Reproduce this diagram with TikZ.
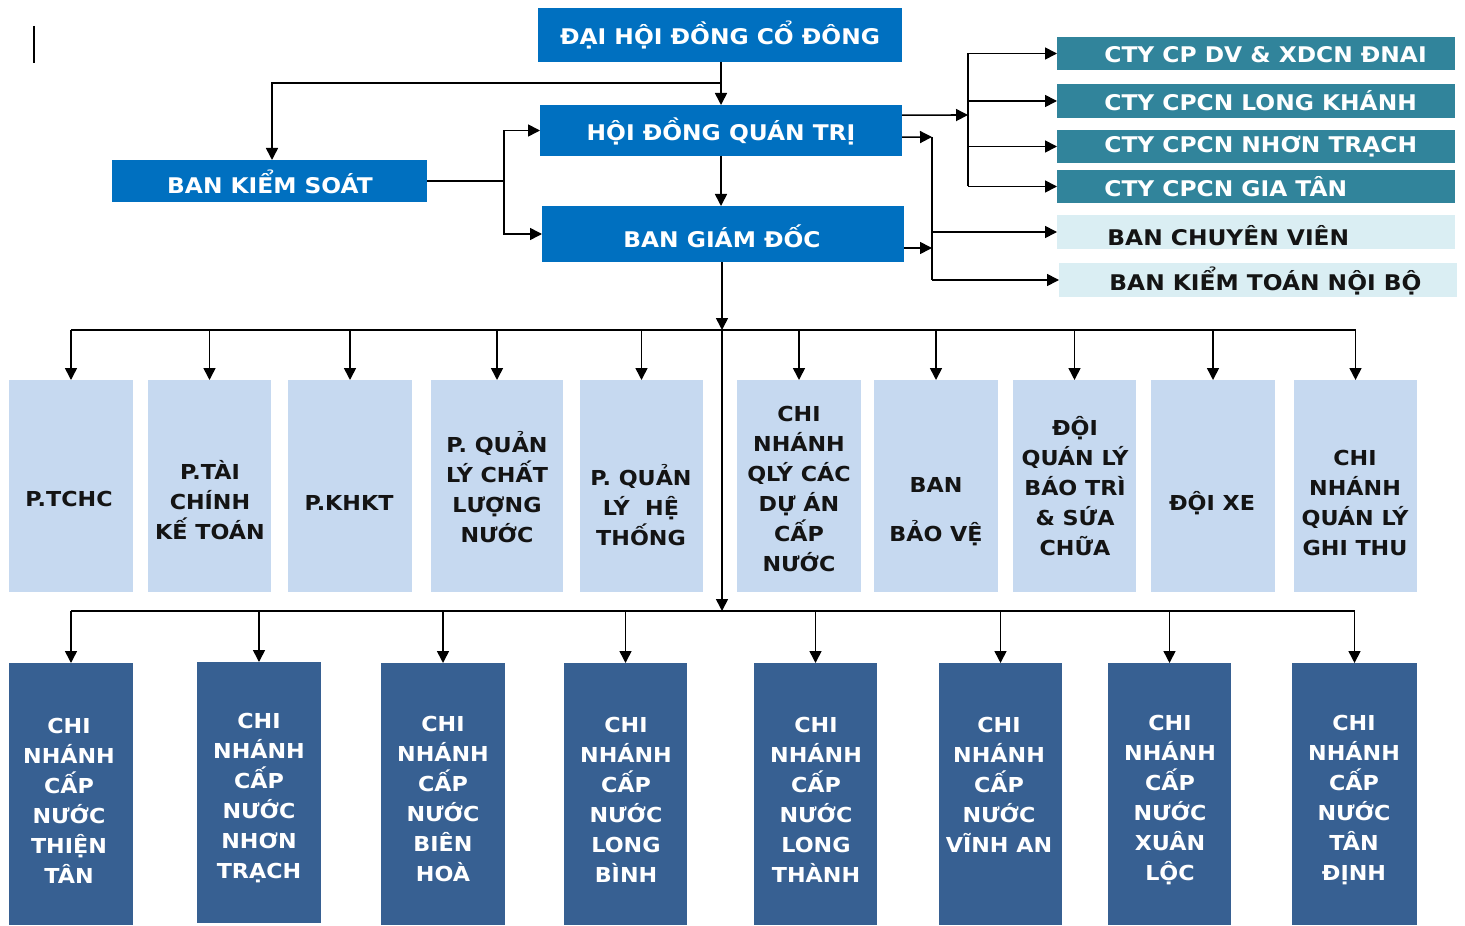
\documentclass[tikz,border=0pt]{standalone}
\usepackage{fontspec}
\setmainfont{DejaVu Sans}[FakeStretch=1.08]
\usetikzlibrary{arrows.meta,calc}
\definecolor{cTop}{RGB}{0,112,192}
\definecolor{cTeal}{RGB}{49,132,155}
\definecolor{cPale}{RGB}{218,238,243}
\definecolor{cMid}{RGB}{198,217,240}
\definecolor{cDark}{RGB}{55,96,146}
\definecolor{cText}{RGB}{20,20,20}
\newcommand\mybox[6]{\node[#6,minimum width={(#4-#2)*0.5pt},minimum height={(#5-#3)*0.5pt}] (#1) at ({(#2+#4)/2},{(#3+#5)/2}) {};}
\begin{document}
\begin{tikzpicture}[x=0.5pt,y=-0.5pt,
  box/.style={rectangle,inner sep=0pt,outer sep=0pt,draw=none},
  topbox/.style={box,fill=cTop},
  tealbox/.style={box,fill=cTeal},
  palebox/.style={box,fill=cPale},
  midbox/.style={box,fill=cMid},
  darkbox/.style={box,fill=cDark},
  lbl/.style={inner sep=0pt,font=\bfseries\fontsize{10.3}{15}\selectfont,align=center},
  biglbl/.style={inner sep=0pt,font=\bfseries\fontsize{10.8}{15}\selectfont,align=center},
  wlbl/.style={lbl,text=white},
  klbl/.style={lbl,text=cText},
  wbig/.style={biglbl,text=white},
  kbig/.style={biglbl,text=cText},
  arr/.style={-{Triangle[length=6pt,width=6pt]},line width=0.8pt},
  conn/.style={line width=0.8pt},
]
\useasboundingbox (0,0) rectangle (1465,925);
% stray mark
\draw[line width=1pt] (34,26) -- (34,63);
% top boxes
\mybox{dh}{538}{8}{902}{62}{topbox}
\mybox{hd}{540}{105}{902}{156}{topbox}
\mybox{bks}{112}{160}{427}{202}{topbox}
\mybox{bgd}{542}{206}{904}{262}{topbox}
\node[wbig] (tdh) at (720,35) {ĐẠI HỘI ĐỒNG CỔ ĐÔNG};
\node[wbig] (thd) at (721,131) {HỘI ĐỒNG QUÁN TRỊ};
\node[wbig] (tbks) at (270,182) {BAN KIỂM SOÁT};
\node[wbig] (tbgd) at (722,236) {BAN GIÁM ĐỐC};
% right boxes
\mybox{c1}{1057}{37}{1455}{70}{tealbox}
\mybox{c2}{1057}{84}{1455}{118}{tealbox}
\mybox{c3}{1057}{130}{1455}{163}{tealbox}
\mybox{c4}{1057}{170}{1455}{203}{tealbox}
\mybox{cv}{1057}{215}{1455}{249}{palebox}
\mybox{kt}{1059}{263}{1457}{297}{palebox}
\node[wbig,anchor=west] (tc1) at (1104,55) {CTY CP DV \& XDCN ĐNAI};
\node[wbig,anchor=west] (tc2) at (1104,101) {CTY CPCN LONG KHÁNH};
\node[wbig,anchor=west] (tc3) at (1104,147) {CTY CPCN NHƠN TRẠCH};
\node[wbig,anchor=west] (tc4) at (1104,187) {CTY CPCN GIA TÂN};
\node[kbig,anchor=west] (tcv) at (1107,236) {BAN CHUYÊN VIÊN};
\node[kbig,anchor=west] (tkt) at (1109,281) {BAN KIỂM TOÁN NỘI BỘ};
% middle row
\mybox{m1}{9}{380}{133}{592}{midbox}
\mybox{m2}{148}{380}{271}{592}{midbox}
\mybox{m3}{288}{380}{412}{592}{midbox}
\mybox{m4}{431}{380}{563}{592}{midbox}
\mybox{m5}{580}{380}{703}{592}{midbox}
\mybox{m6}{737}{380}{861}{592}{midbox}
\mybox{m7}{874}{380}{998}{592}{midbox}
\mybox{m8}{1013}{380}{1136}{592}{midbox}
\mybox{m9}{1151}{380}{1275}{592}{midbox}
\mybox{m10}{1294}{380}{1417}{592}{midbox}
\node[klbl] (tm1) at (69,499) {P.TCHC};
\node[klbl] (tm2) at (210,500) {P.TÀI\\CHÍNH\\KẾ TOÁN};
\node[klbl] (tm3) at (349,503) {P.KHKT};
\node[klbl] (tm4) at (497,487) {P. QUẢN\\LÝ CHẤT\\LƯỢNG\\NƯỚC};
\node[klbl] (tm5) at (641,505) {P. QUẢN\\LÝ\ \ HỆ\\THỐNG};
\node[klbl] (tm6) at (799,489) {CHI\\NHÁNH\\QLÝ CÁC\\DỰ ÁN\\CẤP\\NƯỚC};
\node[klbl] (tm7) at (936,512) {BAN\\[9.5pt]BẢO VỆ};
\node[klbl] (tm8) at (1075,486) {ĐỘI\\QUÁN LÝ\\BÁO TRÌ\\\& SỨA\\CHỮA};
\node[klbl] (tm9) at (1212,503) {ĐỘI XE};
\node[klbl] (tm10) at (1355,503) {CHI\\NHÁNH\\QUÁN LÝ\\GHI THU};
% bottom row
\mybox{b1}{9}{663}{133}{925}{darkbox}
\mybox{b2}{197}{662}{321}{923}{darkbox}
\mybox{b3}{381}{663}{505}{925}{darkbox}
\mybox{b4}{564}{663}{687}{925}{darkbox}
\mybox{b5}{754}{663}{877}{925}{darkbox}
\mybox{b6}{939}{663}{1062}{925}{darkbox}
\mybox{b7}{1108}{663}{1231}{925}{darkbox}
\mybox{b8}{1292}{663}{1417}{925}{darkbox}
\node[wlbl] (tb1) at (69,801) {CHI\\NHÁNH\\CẤP\\NƯỚC\\THIỆN\\TÂN};
\node[wlbl] (tb2) at (259,798) {CHI\\NHÁNH\\CẤP\\NƯỚC\\NHƠN\\TRẠCH};
\node[wlbl] (tb3) at (443,799) {CHI\\NHÁNH\\CẤP\\NƯỚC\\BIÊN\\HOÀ};
\node[wlbl] (tb4) at (626,800) {CHI\\NHÁNH\\CẤP\\NƯỚC\\LONG\\BÌNH};
\node[wlbl] (tb5) at (816,800) {CHI\\NHÁNH\\CẤP\\NƯỚC\\LONG\\THÀNH};
\node[wlbl] (tb6) at (999,785) {CHI\\NHÁNH\\CẤP\\NƯỚC\\VĨNH AN};
\node[wlbl] (tb7) at (1170,800) {CHI\\NHÁNH\\CẤP\\NƯỚC\\XUÂN\\LỘC};
\node[wlbl] (tb8) at (1354,800) {CHI\\NHÁNH\\CẤP\\NƯỚC\\TÂN\\ĐỊNH};
% connectors top
\coordinate (j1) at (721,83);
\coordinate (j2) at (504,181);
\coordinate (jc) at (968,115);
\coordinate (jd) at (932,137);
\coordinate (jb) at (722,330);
\coordinate (jb2) at (722,611);
\draw[arr] (dh.south -| j1) -- (hd.north -| j1);
\draw[arr] (j1) -| (bks.north -| 272,0);
\draw[conn] (bks.east) -- (bks.east -| j2);
\draw[arr] (j2) |- (hd.west);
\draw[arr] (j2) |- (bgd.west);
\draw[arr] (hd.south -| j1) -- (bgd.north -| j1);
% to companies
\draw[arr] ($(hd.north east)!0.2!(hd.south east)$) -- (jc);
\draw[conn] (jc |- c1.west) -- (jc |- c4.west);
\foreach \c in {c1,c2,c3,c4} \draw[arr] (jc |- \c.west) -- (\c.west);
% to ban chuyen vien / kiem toan
\draw[arr] ($(hd.north east)!0.63!(hd.south east)$) -- (jd);
\draw[arr] ($(bgd.north east)!0.75!(bgd.south east)$) -- (jd |- 0,248);
\draw[conn] (jd) -- (jd |- kt.west);
\draw[arr] (jd |- cv.west) -- (cv.west);
\draw[arr] (jd |- kt.west) -- (kt.west);
% down
\draw[arr] (bgd.south -| jb) -- (jb);
\draw[arr] (jb) -- (jb2);
\draw[conn] (m1.north |- jb) -- (m10.north |- jb);
\foreach \m in {m1,m2,m3,m4,m5,m6,m7,m8,m9,m10} \draw[arr] (\m.north |- jb) -- (\m.north);
\draw[conn] (b1.north |- jb2) -- (b8.north |- jb2);
\foreach \b in {b1,b2,b3,b4,b5,b6,b7,b8} \draw[arr] (\b.north |- jb2) -- (\b.north);
\end{tikzpicture}
\end{document}
